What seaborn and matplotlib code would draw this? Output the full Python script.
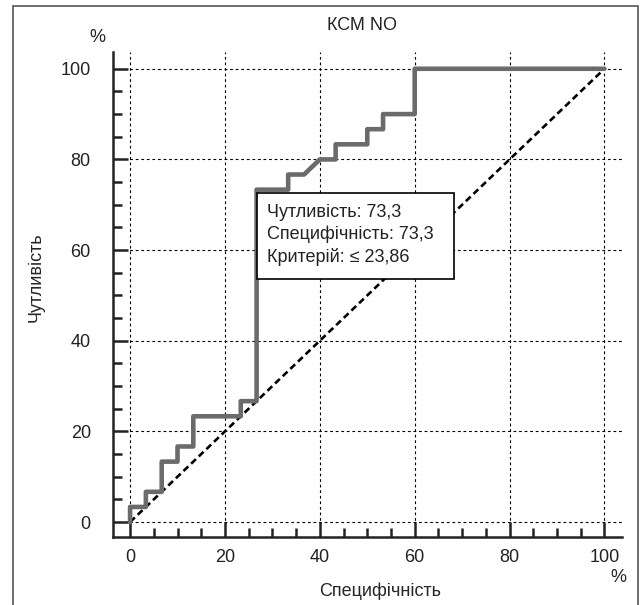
import matplotlib
matplotlib.use("Agg")
import matplotlib.pyplot as plt
import seaborn as sns
import pandas as pd
from matplotlib.patches import Rectangle
from matplotlib.ticker import MultipleLocator

# ROC curve points (x = specificity axis, y = sensitivity)
spec = [0, 0, 3.33, 3.33, 6.67, 6.67, 10, 10, 13.33, 13.33, 23.33, 23.33,
        26.67, 26.67, 33.33, 33.33, 36.67, 40, 43.33, 43.33, 50, 50,
        53.33, 53.33, 60, 60, 100]
sens = [0, 3.33, 3.33, 6.67, 6.67, 13.33, 13.33, 16.67, 16.67, 23.33, 23.33, 26.67,
        26.67, 73.33, 73.33, 76.67, 76.67, 80, 80, 83.33, 83.33, 86.67,
        86.67, 90, 90, 100, 100]
diag_x = [0, 100]
diag_y = [0, 100]
tick_values = [0, 20, 40, 60, 80, 100]
cutoff_text = ["Чутливість: 73,3", "Специфічність: 73,3", "Критерій: ≤ 23,86"]
cutoff_point = (26.67, 73.33)

sns.set_style("white")
plt.rcParams["font.family"] = ["Liberation Sans", "DejaVu Sans"]
plt.rcParams["text.color"] = "#222222"

W, H = 642, 605
fig = plt.figure(figsize=(W / 100, H / 100), dpi=100)
ax = fig.add_axes([113 / W, (H - 537) / H, 509 / W, 485 / H])

df = pd.DataFrame({"spec": spec, "sens": sens})
sns.lineplot(data=df, x="spec", y="sens", sort=False, estimator=None,
             color="#6b6b6b", linewidth=3.3, ax=ax, zorder=3)
sns.lineplot(x=diag_x, y=diag_y, color="black", linewidth=1.9,
             linestyle=(0, (2.5, 1.5)), ax=ax, zorder=2)

ax.set_xlim(-3.6, 103.7)
ax.set_ylim(-3.3, 103.7)
ax.set_xticks(tick_values)
ax.set_yticks(tick_values)
ax.xaxis.set_minor_locator(MultipleLocator(5))
ax.yaxis.set_minor_locator(MultipleLocator(5))
ax.grid(True, which="major", color="black", linestyle=(0, (2.5, 2.5)), linewidth=0.8)

for side in ["top", "right"]:
    ax.spines[side].set_visible(False)
for side in ["left", "bottom"]:
    ax.spines[side].set_linewidth(1.8)
    ax.spines[side].set_color("#222222")

ax.tick_params(which="both", bottom=True, left=True, direction="in",
               width=1.8, color="#222222")
ax.tick_params(which="major", length=11, labelsize=13, labelcolor="#222222")
ax.tick_params(which="minor", length=6.5)
ax.tick_params(axis="x", which="major", pad=9)
ax.tick_params(axis="y", which="major", pad=16)

ax.set_xlabel("Специфічність", fontsize=13)
ax.xaxis.set_label_coords((380 - 113) / 509, (537 - 591) / 485)
ax.xaxis.label.set_va("center")
ax.set_ylabel("Чутливість", fontsize=13)
ax.yaxis.set_label_coords((36 - 113) / 509, (537 - 277) / 485)
ax.yaxis.label.set_va("center")

# annotation box for the cut-off point
box = Rectangle((cutoff_point[0] + 0.1, 53.6), 41.5, 19, facecolor="white",
                edgecolor="black", linewidth=1.2, zorder=4)
ax.add_patch(box)
for i, line in enumerate(cutoff_text):
    ax.text(28.9, 68.4 - i * 5.0, line, fontsize=13, va="center",
            ha="left", zorder=5)

fig.text(362 / W, 1 - 25 / H, "КСМ NO", fontsize=13, ha="center", va="center")
fig.text(97 / W, 1 - 38 / H, "%", fontsize=13, ha="center", va="center")
fig.text(618 / W, 1 - 578 / H, "%", fontsize=13, ha="center", va="center")

border = Rectangle((13 / W, -0.01), (638 - 13) / W, 1.0, transform=fig.transFigure,
                   fill=False, edgecolor="#555555", linewidth=1.2)
fig.patches.append(border)

fig.savefig("out.png", dpi=100)
